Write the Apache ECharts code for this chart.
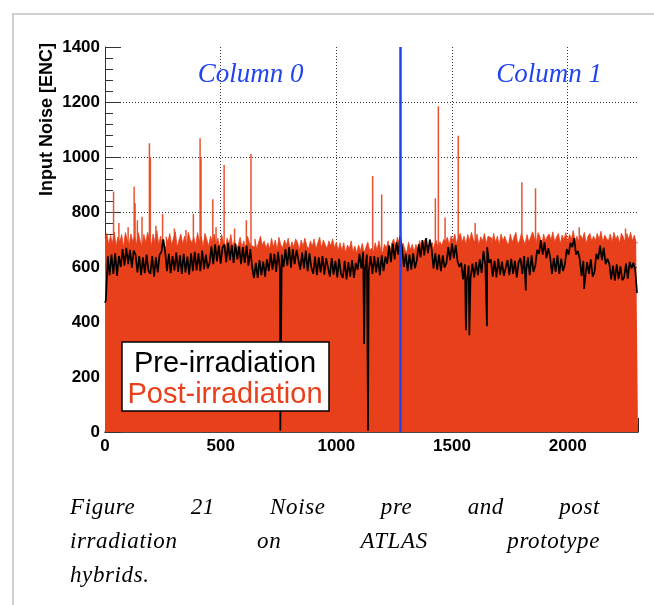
<!DOCTYPE html>
<html><head><meta charset="utf-8">
<script src="https://cdn.jsdelivr.net/npm/echarts@6/dist/echarts.min.js"></script>
<style>
html,body{margin:0;padding:0;background:#fff;}
#wrap{position:relative;width:654px;height:605px;overflow:hidden;}
#chart{position:absolute;left:0;top:0;width:654px;height:605px;}
#frame{position:absolute;left:12px;top:13px;width:700px;height:700px;border-left:2px solid #cfcfcf;border-top:2px solid #cfcfcf;}
.cap{position:absolute;left:70px;width:530px;font-family:"Liberation Serif","DejaVu Serif",serif;font-style:italic;font-size:23px;letter-spacing:0.6px;line-height:34px;color:#000;}
.j{text-align:justify;text-align-last:justify;}
</style></head>
<body>
<div id="wrap">
<div id="frame"></div>
<div id="chart"></div>
<div class="cap j" style="top:490px">Figure 21 Noise pre and post</div>
<div class="cap j" style="top:524px">irradiation on ATLAS prototype</div>
<div class="cap" style="top:558px">hybrids.</div>
</div>
<script>
// ---- data (channel bins of 8 strips) ----
const binWidth = 8;
const channelMax = 2304;
const xTickValues = [0, 500, 1000, 1500, 2000];
const yTickValues = [0, 200, 400, 600, 800, 1000, 1200, 1400];

// Pre-irradiation noise [ENC], one value per 8-channel bin
const preNoise = [
480,640,570,645,575,650,568,640, 600,665,605,670,610,662,598,660,
645,580,640,570,635,578,645,585, 575,640,565,635,580,645,655,700,
655,585,648,578,640,588,652,582, 642,575,648,580,638,572,650,585,
655,588,650,585,660,592,645,595, 615,675,610,682,620,678,612,670,
682,618,688,625,680,615,685,628, 675,610,672,615,678,605,665,600,
560,615,560,625,570,620,565,628, 585,650,590,648,582,655,595,645,
600,665,605,672,598,665,610,662, 658,590,652,595,660,585,650,598,
575,638,570,635,580,640,572,632, 628,565,632,572,622,562,630,575,
560,622,555,618,565,625,560,615, 590,648,595,655,592,645,585,640,
575,640,580,635,570,642,585,638, 612,678,618,685,628,690,645,712,
672,600,648,585,645,590,650,595, 625,682,635,698,642,705,650,700,
665,595,650,590,645,585,642,598, 615,672,625,685,632,680,620,600,
615,555,610,550,605,558,612,562, 618,570,628,578,658,610,672,615,
628,565,622,562,630,572,620,568, 565,625,570,630,575,622,562,618,
632,575,640,580,635,570,642,582, 605,662,648,698,645,690,632,668,
638,575,632,582,642,575,630,585, 610,665,645,688,672,705,645,658,
630,568,622,562,618,575,628,565, 582,648,628,678,625,670,610,630,
612,555,605,550,610,556,602,552, 562,612,558,618,595,615,590,505
];
// Pre-irradiation isolated low channels
const preDipChannel = [0, 758, 1120, 1137, 1560, 1575, 1651, 1819, 2071];
const preDipValue   = [470, 5, 320, 5, 370, 352, 385, 515, 520];

// Post-irradiation noise [ENC], one value per 8-channel bin
const postNoise = [
705,722,680,715,685,728,675,710, 690,718,672,725,700,678,720,692,
712,678,725,695,672,718,688,726, 702,675,720,688,732,682,712,678,
672,710,690,722,680,705,728,672, 698,720,682,712,675,726,700,688,
708,678,725,692,712,672,722,700, 675,712,688,720,682,705,672,718,
690,670,705,682,718,672,698,665, 680,708,672,695,665,712,688,678,
672,702,665,690,712,678,695,668, 688,665,705,672,698,662,708,680,
670,698,678,705,665,692,672,702, 690,662,698,675,705,678,665,695,
675,702,665,688,708,670,698,680, 668,695,676,702,670,690,660,688,
660,688,652,680,665,695,655,676, 650,680,658,686,652,672,690,660,
668,652,688,660,695,662,650,682, 670,695,655,688,702,672,708,685,
658,686,665,650,690,662,682,655, 682,660,696,672,688,700,665,684,
688,662,680,696,668,692,678,700, 692,708,680,712,695,720,682,710,
722,690,712,682,718,695,726,700, 690,720,680,710,695,722,685,712,
705,682,722,690,712,680,720,695, 712,692,680,720,690,708,726,684,
695,722,700,682,718,690,708,728, 706,688,725,710,682,720,695,712,
720,698,728,690,710,722,684,716, 700,725,690,718,702,732,695,712,
690,716,700,726,684,712,722,695, 712,695,722,700,730,690,716,704,
695,720,690,726,700,715,686,722, 710,690,722,700,726,695,716,688
];
// Post-irradiation noisy channels (spikes)
const postSpikeChannel = [37,60,100,126,130,140,160,192,196,220,249,300,350,382,411,415,466,480,515,560,611,631,1157,1196,1428,1441,1470,1527,1600,1802,1861,2050,2250];
const postSpikeValue   = [874,760,745,892,832,770,783,1050,1000,750,793,740,735,793,1068,1000,846,745,971,740,770,1011,931,864,850,1185,780,1077,760,908,886,745,740];

const columnBoundary = 1275;
const columnLabels = ['Column 0', 'Column 1'];
const columnLabelChannel = [630, 1920];

// ---- build series data ----
const postData = postNoise.map((v, i) => [i * binWidth, v]);
postData.push([channelMax, postNoise[postNoise.length - 1]]);
const spikeData = postSpikeChannel.map((c, i) => [c, postSpikeValue[i]]);
const preData = preNoise.map((v, i) => [i * binWidth + binWidth / 2, v])
  .concat(preDipChannel.map((c, i) => [c, preDipValue[i]]))
  .sort((a, b) => a[0] - b[0]);

const RED = '#e7401b';
const BLUE = '#2244ee';
const chart = echarts.init(document.getElementById('chart'), null, {renderer: 'canvas'});

const grid = {left: 105, right: 16, top: 47, bottom: 173};
const axisFont = {fontFamily: '"Liberation Sans", Arial, sans-serif', fontWeight: 'bold', fontSize: 17, color: '#000'};
const plain = v => String(v);

chart.setOption({
  animation: false,
  backgroundColor: 'transparent',
  grid: grid,
  xAxis: [{
    type: 'value', min: xTickValues[0], max: channelMax, interval: xTickValues[1] - xTickValues[0],
    axisLine: {show: true, onZero: false, lineStyle: {color: '#222', width: 1}},
    axisTick: {show: true, inside: true, length: 14, lineStyle: {color: '#222'}},
    minorTick: {show: true, splitNumber: 5, length: 7, lineStyle: {color: '#222'}},
    axisLabel: Object.assign({margin: 6, showMaxLabel: false, formatter: plain}, axisFont),
    splitLine: {show: true, showMinLine: false, showMaxLine: false, lineStyle: {type: [1, 2], color: '#333', width: 1}}
  }, {
    type: 'value', position: 'top', min: 0, max: channelMax,
    axisLine: {show: true, lineStyle: {color: '#555', width: 1.5}},
    axisTick: {show: false}, axisLabel: {show: false}, splitLine: {show: false}
  }],
  yAxis: {
    type: 'value', min: yTickValues[0], max: yTickValues[yTickValues.length - 1], interval: yTickValues[1] - yTickValues[0],
    axisLine: {show: true, lineStyle: {color: '#333', width: 1}},
    axisTick: {show: true, inside: true, length: 16, lineStyle: {color: '#333'}},
    minorTick: {show: true, splitNumber: 5, length: 8, lineStyle: {color: '#333'}},
    axisLabel: Object.assign({margin: 5, formatter: plain}, axisFont),
    splitLine: {show: true, showMinLine: false, showMaxLine: false, lineStyle: {type: [1, 2], color: '#333', width: 1}}
  },
  series: [{
    name: 'Post-irradiation', type: 'line', step: 'end', data: postData,
    symbol: 'none', showSymbol: false,
    lineStyle: {color: RED, width: 0.8}, areaStyle: {color: RED, opacity: 1}, z: 2
  }, {
    name: 'Post spikes', type: 'bar', data: spikeData, barWidth: 1.5,
    itemStyle: {color: RED, opacity: 0.9}, z: 2
  }, {
    name: 'Pre-irradiation', type: 'line', data: preData,
    symbol: 'none', showSymbol: false,
    lineStyle: {color: '#000', width: 1.7}, z: 3,
    markLine: {
      silent: true, symbol: 'none', label: {show: false},
      lineStyle: {color: BLUE, width: 2.5, type: 'solid'},
      data: [{xAxis: columnBoundary}]
    }
  }],
  graphic: [
    {id: 'ytitle', type: 'text', x: 47, y: 43, rotation: Math.PI / 2, z: 100,
     style: {text: 'Input Noise [ENC]', font: 'bold 18px "Liberation Sans", Arial, sans-serif', fill: '#000',
             textAlign: 'right', textVerticalAlign: 'middle', align: 'right', verticalAlign: 'middle'}},
    {id: 'legbox', type: 'rect', z: 100, shape: {x: 122, y: 342, width: 207, height: 69},
     style: {fill: '#fff', stroke: '#000', lineWidth: 1.5}},
    {id: 'legpre', type: 'text', x: 225, y: 364, z: 101,
     style: {text: 'Pre-irradiation', font: '29px "Liberation Sans", Arial, sans-serif', fill: '#000',
             textAlign: 'center', textVerticalAlign: 'middle', align: 'center', verticalAlign: 'middle'}},
    {id: 'legpost', type: 'text', x: 225, y: 395, z: 101,
     style: {text: 'Post-irradiation', font: '29px "Liberation Sans", Arial, sans-serif', fill: RED,
             textAlign: 'center', textVerticalAlign: 'middle', align: 'center', verticalAlign: 'middle'}}
  ]
});

// column labels positioned through the axis scale
const colGraphics = columnLabels.map((t, i) => {
  const p = chart.convertToPixel({xAxisIndex: 0, yAxisIndex: 0}, [columnLabelChannel[i], 0]);
  return {id: 'col' + i, type: 'text', x: p[0], y: 75, z: 100,
    style: {text: t, font: 'italic 27px "Liberation Serif", "Times New Roman", serif', fill: BLUE,
            textAlign: 'center', textVerticalAlign: 'middle', align: 'center', verticalAlign: 'middle'}};
});
chart.setOption({graphic: colGraphics});
</script>
</body></html>
